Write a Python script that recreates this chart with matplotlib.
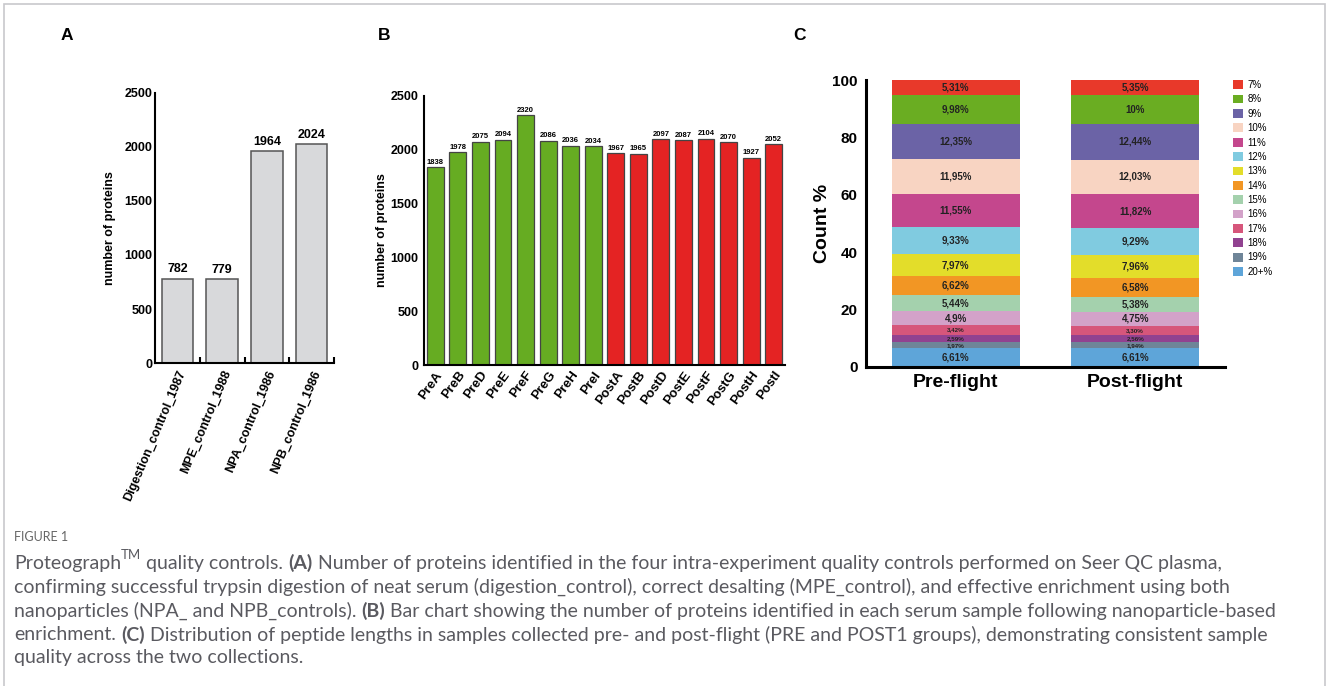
import numpy as np
import matplotlib
matplotlib.use("Agg")
import matplotlib.pyplot as plt
from matplotlib.patches import Rectangle

plt.rcParams['font.family'] = ['Liberation Sans', 'DejaVu Sans']

# panel A
qc_names = ["Digestion_control_1987", "MPE_control_1988", "NPA_control_1986", "NPB_control_1986"]
qc_counts = [782, 779, 1964, 2024]

# panel B
samples = ["PreA", "PreB", "PreD", "PreE", "PreF", "PreG", "PreH", "PreI",
           "PostA", "PostB", "PostD", "PostE", "PostF", "PostG", "PostH", "PostI"]
sample_counts = [1838, 1978, 2075, 2094, 2320, 2086, 2036, 2034,
                 1967, 1965, 2097, 2087, 2104, 2070, 1927, 2052]
sample_group = ["pre"] * 8 + ["post"] * 8

# panel C (bottom to top)
groups = ["Pre-flight", "Post-flight"]
length_bins = ["20+%", "19%", "18%", "17%", "16%", "15%", "14%", "13%",
               "12%", "11%", "10%", "9%", "8%", "7%"]
pre_pct = [6.61, 1.97, 2.59, 3.42, 4.9, 5.44, 6.62, 7.97, 9.33, 11.55, 11.95, 12.35, 9.98, 5.31]
post_pct = [6.61, 1.94, 2.56, 3.30, 4.75, 5.38, 6.58, 7.96, 9.29, 11.82, 12.03, 12.44, 10, 5.35]
pre_lbl = ["6,61%", "1,97%", "2,59%", "3,42%", "4,9%", "5,44%", "6,62%", "7,97%",
           "9,33%", "11,55%", "11,95%", "12,35%", "9,98%", "5,31%"]
post_lbl = ["6,61%", "1,94%", "2,56%", "3,30%", "4,75%", "5,38%", "6,58%", "7,96%",
            "9,29%", "11,82%", "12,03%", "12,44%", "10%", "5,35%"]
bin_colors = ["#5ea5d9", "#6f8598", "#914290", "#d6567b", "#d3a2c9", "#a4d1ad",
              "#f29624", "#e3dd2a", "#80cbe0", "#c4478d", "#f8d4c2", "#6b63a6",
              "#6aad22", "#e8392a"]

W, H = 1330, 686
fig = plt.figure(figsize=(W / 100, H / 100), dpi=100)

def box(l, t, r, b):
    return [l / W, 1 - b / H, (r - l) / W, (b - t) / H]

# frame around the figure
fig.patches.append(Rectangle((4 / W, -0.01), (1325 - 4) / W, 1 - 4 / H + 0.01,
                             transform=fig.transFigure, fill=False,
                             edgecolor="#c8c8cc", linewidth=1.2))

# ---- A ----
axA = fig.add_axes(box(155, 93, 334, 363))
xa = np.arange(len(qc_names))
axA.bar(xa, qc_counts, width=0.7, color="#d8d9db", edgecolor="#555555", linewidth=1.1)
for x, v in zip(xa, qc_counts):
    axA.text(x, v + 30, str(v), ha="center", va="bottom", fontsize=9, fontweight="bold")
axA.set_xlim(-0.5, 3.5)
axA.set_ylim(0, 2500)
axA.set_yticks([0, 500, 1000, 1500, 2000, 2500])
axA.set_xticks(xa)
axA.set_xticklabels(qc_names, rotation=67, ha="right", rotation_mode="anchor",
                    fontsize=9, fontweight="bold")
axA.set_xticks(xa + 0.5, minor=True)
axA.tick_params(axis="x", which="major", length=0, pad=4)
axA.tick_params(axis="x", which="minor", direction="in", length=4, width=1.5)
axA.tick_params(axis="y", length=0, pad=2, labelsize=9)
for t in axA.get_yticklabels():
    t.set_fontweight("bold")
axA.set_ylabel("number of proteins", fontsize=9, fontweight="bold", labelpad=6)
for s in ["top", "right"]:
    axA.spines[s].set_visible(False)
for s in ["left", "bottom"]:
    axA.spines[s].set_linewidth(1.5)

# ---- B ----
axB = fig.add_axes(box(424, 96, 785, 365))
xb = np.arange(len(samples))
colB = ["#66ac22" if g == "pre" else "#e42323" for g in sample_group]
axB.bar(xb, sample_counts, width=0.75, color=colB, edgecolor="#444444", linewidth=0.9)
for x, v in zip(xb, sample_counts):
    axB.text(x, v + 15, str(v), ha="center", va="bottom", fontsize=5.5, fontweight="bold")
axB.set_xlim(-0.5, len(samples) - 0.5)
axB.set_ylim(0, 2500)
axB.set_yticks([0, 500, 1000, 1500, 2000, 2500])
axB.set_xticks(xb)
axB.set_xticklabels(samples, rotation=54, ha="right", rotation_mode="anchor",
                    fontsize=9.5, fontweight="bold")
axB.tick_params(axis="x", length=0, pad=3)
axB.tick_params(axis="y", length=0, pad=4, labelsize=9)
for t in axB.get_yticklabels():
    t.set_fontweight("bold")
axB.set_ylabel("number of proteins", fontsize=9, fontweight="bold", labelpad=2)
for s in ["top", "right"]:
    axB.spines[s].set_visible(False)
for s in ["left", "bottom"]:
    axB.spines[s].set_linewidth(1.5)

# ---- C ----
axC = fig.add_axes(box(866, 80, 1225, 367))
xc = np.arange(len(groups))
bottoms = np.zeros(2)
handles = []
for i, b in enumerate(length_bins):
    vals = np.array([pre_pct[i], post_pct[i]])
    h = axC.bar(xc, vals, width=0.715, bottom=bottoms, color=bin_colors[i],
                linewidth=0, label=b)
    handles.append(h)
    for j, lab in enumerate([pre_lbl[i], post_lbl[i]]):
        fs = 7 if vals[j] > 4 else 4.5
        axC.text(xc[j], bottoms[j] + vals[j] / 2, lab, ha="center", va="center",
                 fontsize=fs, fontweight="bold", color="#222222")
    bottoms = bottoms + vals
axC.set_xlim(-0.5, 1.5)
axC.set_ylim(0, 100)
axC.set_yticks([0, 20, 40, 60, 80, 100])
axC.set_xticks(xc)
axC.set_xticklabels(groups, fontsize=14, fontweight="bold")
axC.tick_params(axis="x", length=0, pad=5)
axC.tick_params(axis="y", length=0, pad=6, labelsize=11)
for t in axC.get_yticklabels():
    t.set_fontweight("bold")
axC.set_ylabel("Count %", fontsize=14, fontweight="bold", labelpad=1)
for s in ["top", "right"]:
    axC.spines[s].set_visible(False)
for s in ["left", "bottom"]:
    axC.spines[s].set_linewidth(2.2)
axC.legend(handles[::-1], length_bins[::-1], loc="upper left",
           bbox_to_anchor=(1233 / W, 1 - 80 / H), bbox_transform=fig.transFigure,
           frameon=False, fontsize=7, handlelength=1.0, handleheight=1.0,
           handletextpad=0.5, labelspacing=0.45, borderpad=0, borderaxespad=0)

# panel letters
for lt, x in [("A", 67), ("B", 384), ("C", 800)]:
    fig.text(x / W, 1 - 36 / H, lt, fontsize=12.5, fontweight="bold", ha="center", va="center")

# ---- caption ----
cap_font = "Lato"
cap_col = "#5a5a60"
fig.text(14 / W, 1 - 537 / H, "FIGURE 1", fontsize=9, color="#666666",
         family=cap_font, va="center")

renderer = fig.canvas.get_renderer()

def measure(s, **kw):
    t = fig.text(0, 0, s, **kw)
    w = t.get_window_extent(renderer).width
    t.remove()
    return w

cap_size = 14.0
sp = measure("x x", family=cap_font, fontsize=cap_size) - measure("xx", family=cap_font, fontsize=cap_size)

caption = [
    [("Proteograph", "normal"), ("TM", "sup"), ("quality controls.", "normal"), ("(A)", "bold"),
     ("Number of proteins identified in the four intra-experiment quality controls performed on Seer QC plasma,", "normal")],
    [("confirming successful trypsin digestion of neat serum (digestion_control), correct desalting (MPE_control), and effective enrichment using both", "normal")],
    [("nanoparticles (NPA_ and NPB_controls).", "normal"), ("(B)", "bold"),
     ("Bar chart showing the number of proteins identified in each serum sample following nanoparticle-based", "normal")],
    [("enrichment.", "normal"), ("(C)", "bold"),
     ("Distribution of peptide lengths in samples collected pre- and post-flight (PRE and POST1 groups), demonstrating consistent sample", "normal")],
    [("quality across the two collections.", "normal")],
]
line_y = [563, 587, 611, 635, 658]
for runs, y in zip(caption, line_y):
    x = 14.0
    for k, (s, kind) in enumerate(runs):
        if kind == "sup":
            t = fig.text(x / W, (H - y + 8) / H, s, family=cap_font, fontsize=9.5,
                         color=cap_col, va="center")
            x += t.get_window_extent(renderer).width + sp
            continue
        t = fig.text(x / W, (H - y) / H, s, family=cap_font, fontsize=cap_size,
                     fontweight=kind, color=cap_col, va="center")
        x += t.get_window_extent(renderer).width
        if k < len(runs) - 1 and runs[k + 1][1] != "sup":
            x += sp

fig.savefig("out.png", dpi=100)
